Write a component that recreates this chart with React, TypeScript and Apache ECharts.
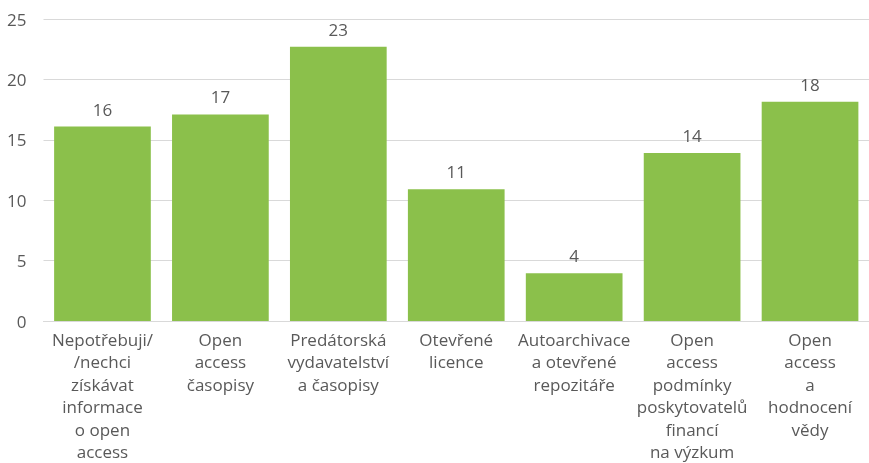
import React, { useEffect, useRef } from "react";
import * as echarts from "echarts";

const categories = [
  "Nepotřebuji/\n/nechci\nzískávat\ninformace\no open\naccess",
  "Open\naccess\nčasopisy",
  "Predátorská\nvydavatelství\na časopisy",
  "Otevřené\nlicence",
  "Autoarchivace\na otevřené\nrepozitáře",
  "Open\naccess\npodmínky\nposkytovatelů\nfinancí\nna výzkum",
  "Open\naccess\na\nhodnocení\nvědy",
];
const values = [16.1, 17.1, 22.7, 10.9, 3.96, 13.9, 18.15];
const yTicks = { min: 0, max: 25, interval: 5 };

const FONT = "'Open Sans', sans-serif";

export default function App() {
  const ref = useRef<HTMLDivElement>(null);
  useEffect(() => {
    if (!ref.current) return;
    const chart = echarts.init(ref.current, undefined, { renderer: "svg" });
    chart.setOption({
      animation: false,
      grid: { left: 43.5, right: 0, top: 19, bottom: 141 },
      xAxis: {
        type: "category",
        data: categories,
        axisLine: { lineStyle: { color: "#d9d9d9", width: 1 } },
        axisTick: { show: false },
        axisLabel: {
          interval: 0,
          color: "#595959",
          fontSize: 17,
          lineHeight: 22.5,
          fontFamily: FONT,
          margin: 7,
        },
      },
      yAxis: {
        type: "value",
        min: yTicks.min,
        max: yTicks.max,
        interval: yTicks.interval,
        axisLine: { show: false },
        axisTick: { show: false },
        splitLine: { lineStyle: { color: "#d9d9d9", width: 1 } },
        axisLabel: { color: "#595959", fontSize: 17, fontFamily: FONT, margin: 17 },
      },
      series: [
        {
          type: "bar",
          data: values,
          barCategoryGap: "18%",
          itemStyle: { color: "#8bc04b" },
          label: {
            show: true,
            position: "top",
            distance: 9,
            color: "#595959",
            fontSize: 17,
            fontFamily: FONT,
            formatter: (p: any) => String(Math.round(p.value)),
          },
        },
      ],
    });
    return () => chart.dispose();
  }, []);
  return (
    <div
      ref={ref}
      style={{ position: "fixed", left: 0, top: 0, width: 869, height: 463 }}
    />
  );
}
